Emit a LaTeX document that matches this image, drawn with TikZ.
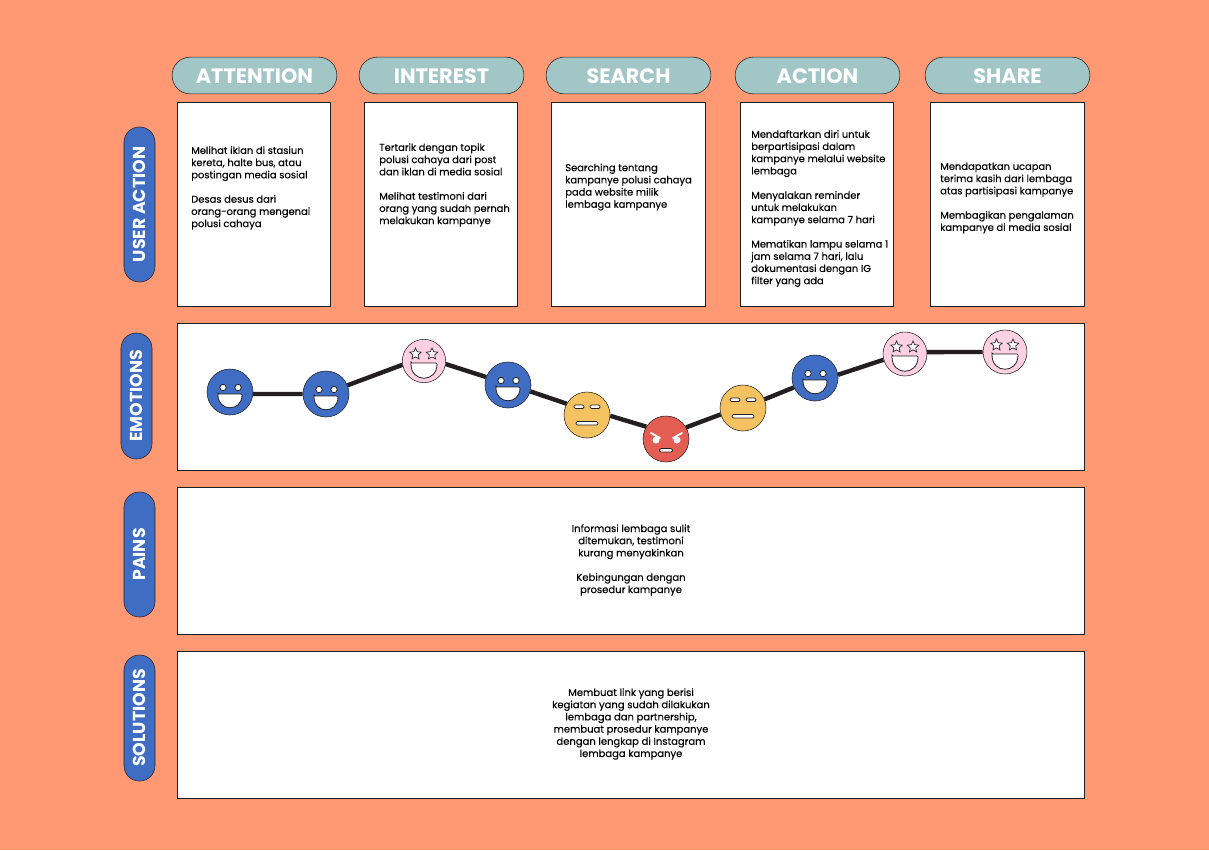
\documentclass[tikz,border=0pt]{standalone}
\usepackage{fontspec}
\setmainfont{Poppins}
\newfontfamily\bodyfont{Poppins}[FakeBold=.25]
\usetikzlibrary{shapes.geometric}
\definecolor{bgorange}{RGB}{255,153,115}
\definecolor{pillteal}{RGB}{162,197,198}
\definecolor{pillblue}{RGB}{64,109,196}
\definecolor{facepink}{RGB}{252,208,224}
\definecolor{faceyellow}{RGB}{244,194,96}
\definecolor{facered}{RGB}{227,93,82}
\definecolor{inkdark}{RGB}{35,31,32}
\tikzset{
  stagepill/.style={draw=inkdark,fill=pillteal,rounded corners=13.5pt,minimum width=123.5pt,minimum height=27.5pt,inner sep=0pt,text=white,text height=12.5pt,text depth=0pt,font=\fontsize{15.6}{17}\selectfont\bfseries},
  rowpill/.style={draw=inkdark,fill=pillblue,rounded corners=11.5pt,minimum height=23.25pt,inner sep=0pt,text=white,rotate=90,font=\fontsize{13}{15}\selectfont\bfseries},
  cardbox/.style={draw=inkdark,fill=white,minimum width=115pt,minimum height=153.25pt,inner sep=0pt},
  widebox/.style={draw=inkdark,fill=white,minimum width=680.5pt,minimum height=110.5pt,inner sep=0pt},
  cardtext/.style={anchor=west,align=left,inner sep=0pt,text=black,font=\fontsize{7.45}{9.15}\bodyfont},
  midtext/.style={align=center,inner sep=0pt,text=black,font=\fontsize{7.5}{9.15}\bodyfont},
  face/.style={draw=inkdark,circle,minimum size=34.5pt,inner sep=0pt},
  link/.style={draw=inkdark,line width=3.3pt},
  small star/.style={draw=inkdark,fill=white,star,star points=5,star point ratio=2.1,minimum size=9pt,inner sep=0pt,line width=.5pt},
  happy/.pic={
    \draw[inkdark,fill=white,line width=.6pt] (-7,-4.5) circle[radius=3.2];
    \draw[inkdark,fill=white,line width=.6pt] (8,-4.5) circle[radius=3.2];
    \draw[inkdark,fill=white,line width=.6pt,rounded corners=.8pt] (-12,2) -- (12,2) .. controls (12,20) and (-12,20) .. cycle;
  },
  starry/.pic={
    \node[small star] (-sl) at (-8.5,-7) {};
    \node[small star] (-sr) at (8,-7) {};
    \draw[inkdark,fill=white,line width=.6pt,rounded corners=.8pt] (-13,2) -- (13,2) .. controls (13,22) and (-13,22) .. cycle;
  },
  flat/.pic={
    \draw[inkdark,fill=white,rounded corners=1pt,line width=.6pt] (-13,-10) rectangle (-3,-6.5);
    \draw[inkdark,fill=white,rounded corners=1pt,line width=.6pt] (3,-10) rectangle (13,-6.5);
    \draw[inkdark,fill=white,rounded corners=1pt,line width=.6pt] (-11,6.5) rectangle (11,10);
  },
  angry/.pic={
    \draw[white,line width=1.4pt,line cap=round] (-15,-6) -- (-6,-1);
    \draw[white,line width=1.4pt,line cap=round] (16,-6) -- (7,-1);
    \fill[white] (-10,1) circle[radius=3.5];
    \fill[white] (11,1) circle[radius=3.5];
    \draw[inkdark,fill=white,rounded corners=1pt,line width=.6pt] (-6.5,9.5) rectangle (6.5,13);
  },
}
\begin{document}
\begin{tikzpicture}[x=.75pt,y=-.75pt]
\useasboundingbox[fill=bgorange] (0,0) rectangle (1209,850);
% stages
\node[stagepill] (attention) at (254.5,75.5) {ATTENTION};
\node[stagepill] (interest) at (441.5,75.5) {INTEREST};
\node[stagepill] (search) at (628.5,75.5) {SEARCH};
\node[stagepill] (action) at (817.5,75.5) {ACTION};
\node[stagepill] (share) at (1007.5,75.5) {SHARE};
% row labels
\node[rowpill,minimum width=116.25pt] (useraction) at (139.5,204.5) {USER ACTION};
\node[rowpill,minimum width=94.5pt] (emotions) at (136.5,396) {EMOTIONS};
\node[rowpill,minimum width=93.75pt] (pains) at (139.5,554.5) {PAINS};
\node[rowpill,minimum width=94.5pt] (solutions) at (139.5,718) {SOLUTIONS};
% cards
\node[cardbox] (card1) at (254,204.5) {};
\node[cardbox] (card2) at (441,204.5) {};
\node[cardbox,minimum width=115.75pt] (card3) at (628.5,204.5) {};
\node[cardbox] (card4) at (817,204.5) {};
\node[cardbox,minimum width=115.75pt] (card5) at (1007.5,204.5) {};
\node[cardtext] (text1) at (191,188) {Melihat iklan di stasiun\\kereta, halte bus, atau\\postingan media sosial\\[9.15pt]Desas desus dari\\orang-orang mengenai\\polusi cahaya};
\node[cardtext] (text2) at (379,185) {Tertarik dengan topik\\polusi cahaya dari post\\dan iklan di media sosial\\[9.15pt]Melihat testimoni dari\\orang yang sudah pernah\\melakukan kampanye};
\node[cardtext] (text3) at (565,187) {Searching tentang\\kampanye polusi cahaya\\pada website milik\\lembaga kampanye};
\node[cardtext] (text4) at (751,208.5) {Mendaftarkan diri untuk\\berpartisipasi dalam\\kampanye melalui website\\lembaga\\[9.15pt]Menyalakan reminder\\untuk melakukan\\kampanye selama 7 hari\\[9.15pt]Mematikan lampu selama 1\\jam selama 7 hari, lalu\\dokumentasi dengan IG\\filter yang ada};
\node[cardtext] (text5) at (940,198) {Mendapatkan ucapan\\terima kasih dari lembaga\\atas partisipasi kampanye\\[9.15pt]Membagikan pengalaman\\kampanye di media sosial};
% wide rows
\node[widebox] (emotionbox) at (631,397) {};
\node[widebox] (painbox) at (631,561) {};
\node[widebox] (solutionbox) at (631,725) {};
\node[midtext] (paintext) at (631,560) {Informasi lembaga sulit\\ditemukan, testimoni\\kurang menyakinkan\\[9.15pt]Kebingungan dengan\\prosedur kampanye};
\node[midtext] (solutiontext) at (631,724) {Membuat link yang berisi\\kegiatan yang sudah dilakukan\\lembaga dan partnership,\\membuat prosedur kampanye\\dengan lengkap di Instagram\\lembaga kampanye};
% emotion curve
\node[face,fill=pillblue] (f1) at (230,392) {};
\node[face,fill=pillblue] (f2) at (326,394) {};
\node[face,fill=facepink,minimum size=32.5pt] (f3) at (424,361) {};
\node[face,fill=pillblue] (f4) at (508,385) {};
\node[face,fill=faceyellow] (f5) at (587,415) {};
\node[face,fill=facered] (f6) at (666,439) {};
\node[face,fill=faceyellow] (f7) at (743,408) {};
\node[face,fill=pillblue] (f8) at (815,378) {};
\node[face,fill=facepink,minimum size=33pt] (f9) at (905,354) {};
\node[face,fill=facepink,minimum size=33pt] (f10) at (1005,352) {};
\foreach \a/\b in {f1.-5/f2.180,f2.22/f3.190,f3.-8/f4.160,f4.-16/f5.151,f5.-2/f6.148,f6.30/f7.196,f7.22/f8.204,f8.8/f9.195,f9.5/f10.180}
  \draw[link] (\a) -- (\b);
\pic at (f1) {happy};
\pic at (f2) {happy};
\pic (s3) at (f3) {starry};
\pic at (f4) {happy};
\pic at (f5) {flat};
\pic at (f6) {angry};
\pic at (f7) {flat};
\pic at (f8) {happy};
\pic (s9) at (f9) {starry};
\pic (s10) at (f10) {starry};
\end{tikzpicture}
\end{document}
